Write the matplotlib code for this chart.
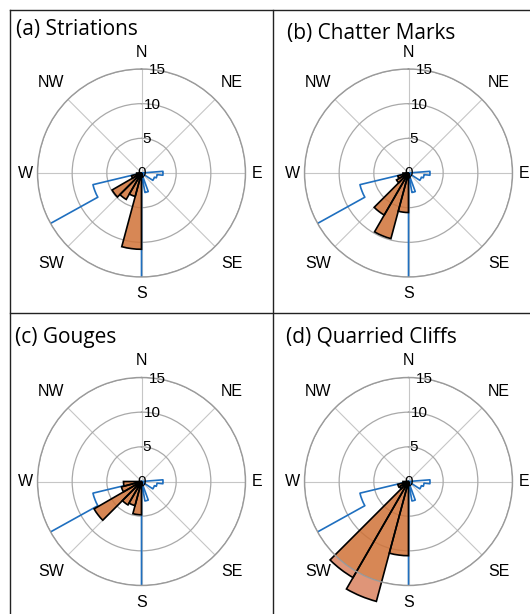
import numpy as np
import matplotlib
matplotlib.use('Agg')
import matplotlib.pyplot as plt
from matplotlib.lines import Line2D

###   DATA   ###

# 15 degree bins, bearing of the start of each bin (clockwise from north)
bin_start = [165, 180, 195, 210, 225, 240, 255]
striations = [0.6, 11.0, 3.5, 4.4, 4.9, 1.5, 0.7]
chatter = [0.7, 5.7, 9.8, 7.0, 2.0, 1.6, 0.8]
gouges = [0.6, 4.8, 3.6, 3.9, 7.9, 3.0, 2.6]
cliffs = [0.6, 10.7, 17.9, 16.0, 1.5, 1.6, 0.8]
panels = [striations, chatter, gouges, cliffs]
titles = ['(a) Striations', '(b) Chatter Marks', '(c) Gouges', '(d) Quarried Cliffs']

# blue reference outline (bearing in degrees, radius)
blue_theta = [241, 241, 256.5, 256.5, 85.5, 85.5, 96, 96, 108, 108, 123, 123,
              160, 160, 170, 170, 180, 180]
blue_r = [15, 7.2, 7.2, 0, 0, 3.1, 3.1, 2.25, 2.25, 1.95, 1.95, 0,
          0, 2.85, 2.85, 0, 0, 15]

rings = [0, 5, 10, 15]
compass = ['N', 'NE', 'E', 'SE', 'S', 'SW', 'W', 'NW']
compass_deg = [0, 45, 90, 135, 180, 225, 270, 315]

###   STYLE   ###

W, H = 530, 614
R = 104  # radius of the 15 ring in pixels
centres = [(141.5, 173), (408.5, 173), (141.5, 481.5), (408.5, 481.5)]
title_pos = [(16, 34.5), (287, 39.5), (15, 342.5), (286, 342.5)]
c_in = '#d07237'
c_out = '#da8360'
c_blue = '#1f6fbf'

fig = plt.figure(figsize=(W / 100, H / 100), dpi=100)

for k in range(4):
    cx, cy = centres[k]
    ax = fig.add_axes([(cx - R) / W, 1 - (cy + R) / H, 2 * R / W, 2 * R / H],
                      projection='polar')
    ax.set_theta_zero_location('N')
    ax.set_theta_direction(-1)
    ax.set_ylim(0, 15)
    ax.set_xticks(np.deg2rad(compass_deg))
    ax.set_xticklabels([])
    ax.set_yticks([5, 10, 15])
    ax.set_yticklabels([])
    ax.tick_params(length=0)
    ax.xaxis.grid(True, color='#c6c6c6', lw=0.8)
    ax.yaxis.grid(True, color='#a9a9a9', lw=0.9)
    ax.spines['polar'].set_color('#9a9a9a')
    ax.spines['polar'].set_linewidth(1.0)
    ax.set_axisbelow(True)

    # blue outline
    ln, = ax.plot(np.deg2rad(blue_theta), blue_r, color=c_blue, lw=1.2, zorder=0.8)
    ln.get_path()._interpolation_steps = 60

    # orange bars
    th = np.deg2rad(bin_start)
    w = np.deg2rad(15)
    vals = np.array(panels[k])
    ax.bar(th, np.minimum(vals, 15), width=w, align='edge', color=c_in,
           alpha=0.85, lw=0, zorder=1)
    m = vals > 15
    if m.any():
        ax.bar(th[m], vals[m] - 15, bottom=15, width=w, align='edge',
               color=c_out, alpha=0.85, lw=0, zorder=1, clip_on=False)
    ax.bar(th, vals, width=w, align='edge', fill=False, edgecolor='black',
           lw=1.2, zorder=1.2, clip_on=False)

    # radial labels
    for v in rings:
        ax.text(np.deg2rad(9), v, str(v), ha='center', va='center',
                fontsize=11, family='Liberation Sans', zorder=5)

    # compass labels
    for lab, d in zip(compass, compass_deg):
        if d % 90 != 0:
            f = 1.225
        elif d % 180 == 0:
            f = 1.16
        else:
            f = 1.115
        ax.text(np.deg2rad(d), 15 * f, lab, ha='center', va='center',
                fontsize=11.5, family='Liberation Sans', clip_on=False, zorder=5)

    tx, ty = title_pos[k]
    fig.text(tx / W, 1 - ty / H, titles[k], fontsize=15, family='Open Sans',
             va='baseline', ha='left')

# panel frame lines
def frame(x0, y0, x1, y1):
    fig.add_artist(Line2D([x0 / W, x1 / W], [1 - y0 / H, 1 - y1 / H],
                          transform=fig.transFigure, color='#222222', lw=1.0))

frame(9.5, 9.5, 9.5, H)
frame(9.5, 9.5, W, 9.5)
frame(272.5, 9.5, 272.5, H)
frame(9.5, 313, W, 313)

fig.savefig('out.png', dpi=100)
